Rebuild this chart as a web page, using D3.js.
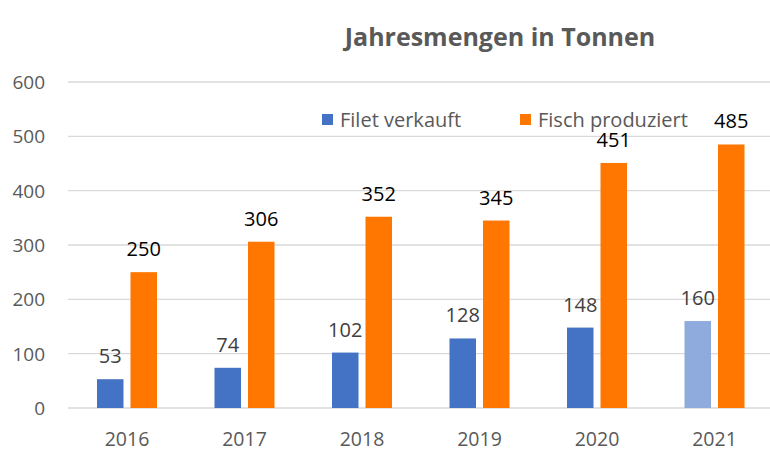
<!DOCTYPE html>
<html><head><meta charset="utf-8">
<script src="https://cdn.jsdelivr.net/npm/d3@7"></script>
<style>body{margin:0;background:#fff;} svg{display:block;font-family:"Open Sans",sans-serif;}</style>
</head><body>
<svg id="c" width="770" height="458"></svg>
<script>
const years = ["2016","2017","2018","2019","2020","2021"];
const filet = [53,74,102,128,148,160];
const fisch = [250,306,352,345,451,485];
const yTicks = [0,100,200,300,400,500,600];

const svg = d3.select("#c");
const x = d3.scaleBand().domain(years).range([68.25,773.25]);
const y = d3.scaleLinear().domain([0,600]).range([408,82]);
const barW = 26.5, gap = 7;

// grid
svg.append("g").selectAll("line").data(yTicks).join("line")
  .attr("x1",68).attr("x2",770).attr("y1",d=>y(d)).attr("y2",d=>y(d))
  .attr("stroke","#d9d9d9").attr("stroke-width",1.3);
// y labels
svg.append("g").selectAll("text").data(yTicks).join("text")
  .attr("x",45).attr("y",d=>y(d)+7).attr("text-anchor","end")
  .attr("font-size",19).attr("fill","#595959").text(d=>d);
// x labels
svg.append("g").selectAll("text").data(years).join("text")
  .attr("x",d=>x(d)+x.bandwidth()/2).attr("y",446).attr("text-anchor","middle")
  .attr("font-size",19.5).attr("fill","#595959").text(d=>d);

const cx = d=>x(d)+x.bandwidth()/2;
// filet bars
svg.append("g").selectAll("rect").data(years).join("rect")
  .attr("x",d=>cx(d)-gap/2-barW).attr("width",barW)
  .attr("y",(d,i)=>y(filet[i])).attr("height",(d,i)=>y(0)-y(filet[i]))
  .attr("fill",(d,i)=>i===5?"#8faadc":"#4472c4");
svg.append("g").selectAll("text").data(years).join("text")
  .attr("x",d=>cx(d)-gap/2-barW/2).attr("y",(d,i)=>y(filet[i])-16)
  .attr("text-anchor","middle").attr("font-size",20).attr("fill","#404040")
  .text((d,i)=>filet[i]);
// fisch bars
svg.append("g").selectAll("rect").data(years).join("rect")
  .attr("x",d=>cx(d)+gap/2).attr("width",barW)
  .attr("y",(d,i)=>y(fisch[i])).attr("height",(d,i)=>y(0)-y(fisch[i]))
  .attr("fill","#ff7700");
svg.append("g").selectAll("text").data(years).join("text")
  .attr("x",d=>cx(d)+gap/2+barW/2).attr("y",(d,i)=>y(fisch[i])-16)
  .attr("text-anchor","middle").attr("font-size",20).attr("font-weight",500).attr("fill","#000")
  .text((d,i)=>fisch[i]);

// title
svg.append("text").attr("x",500).attr("y",46).attr("text-anchor","middle")
  .attr("font-size",25).attr("font-weight","bold").attr("fill","#595959")
  .text("Jahresmengen in Tonnen");

// legend
const leg = [{n:"Filet verkauft",c:"#4472c4",x:322},{n:"Fisch produziert",c:"#ff7700",x:520}];
const lg = svg.append("g").selectAll("g").data(leg).join("g");
lg.append("rect").attr("x",d=>d.x).attr("y",114).attr("width",11).attr("height",11).attr("fill",d=>d.c);
lg.append("text").attr("x",d=>d.x+18).attr("y",127).attr("font-size",20).attr("fill","#595959").text(d=>d.n);
</script>
</body></html>
